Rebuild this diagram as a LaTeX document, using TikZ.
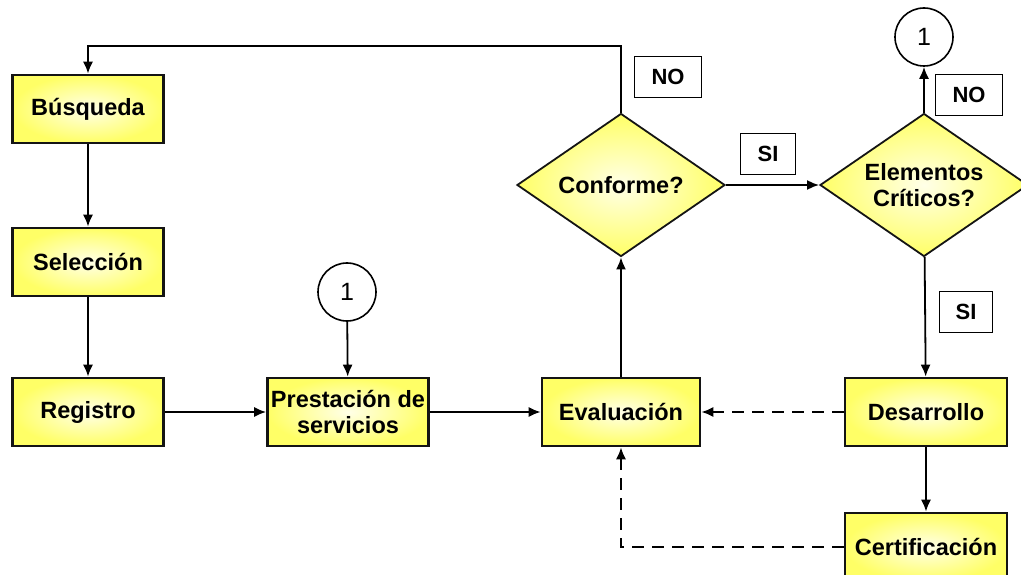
\documentclass[tikz,border=0pt]{standalone}
\usepackage{fontspec}
\setmainfont{Liberation Sans}
\usetikzlibrary{shapes.geometric}
\usetikzlibrary{arrows.meta}
\definecolor{boxout}{RGB}{255, 255, 102}
\definecolor{boxin}{RGB}{255, 255, 232}
\definecolor{edge}{RGB}{20, 20, 20}
\tikzset{
  stepbox/.style={rectangle, minimum width=151pt, minimum height=68pt, inner sep=0pt,
    line width=2.6pt, draw=edge, shading=radial, inner color=boxin, outer color=boxout,
    align=center, font=\bfseries\fontsize{23.5}{26}\selectfont},
  decision/.style={diamond, shape aspect=1.45, minimum width=208pt, minimum height=143pt,
    inner sep=0pt, line width=1.8pt, draw=edge, shading=radial, inner color=boxin,
    outer color=boxout, align=center, font=\bfseries\fontsize{23.5}{26}\selectfont},
  connector/.style={circle, minimum size=58pt, inner sep=0pt, line width=1.6pt,
    draw=black, fill=white, font=\fontsize{25}{27}\selectfont},
  answer/.style={rectangle, minimum height=41pt, inner sep=0pt, line width=1pt,
    draw=black, fill=white, font=\bfseries\fontsize{22}{24}\selectfont},
  flow/.style={line width=1.8pt, color=black, -{Latex[length=12pt, width=10pt]}},
  back/.style={flow, dash pattern=on 12pt off 8pt}
}
\begin{document}
\begin{tikzpicture}
\useasboundingbox (0pt, 0pt) rectangle (1021pt, -575pt);
\node (busqueda) [stepbox] at (88pt, -109pt) {Búsqueda};
\node (seleccion) [stepbox] at (88pt, -262pt) {Selección};
\node (registro) [stepbox] at (88pt, -412pt) {Registro};
\node (prestacion) [stepbox, minimum width=161pt] at (348pt, -412pt) {Prestación de\\servicios};
\node (evaluacion) [stepbox, minimum width=158pt] at (621pt, -412pt) {Evaluación};
\node (desarrollo) [stepbox, minimum width=162pt] at (926pt, -412pt) {Desarrollo};
\node (certificacion) [stepbox, minimum width=162pt] at (926pt, -547pt) {Certificación};
\node (conforme) [decision] at (621pt, -185pt) {Conforme?};
\node (criticos) [decision] at (924pt, -185pt) {Elementos\\Críticos?};
\node (unoA) [connector] at (924pt, -37pt) {1};
\node (unoB) [connector] at (347pt, -292pt) {1};
\node (noA) [answer, minimum width=67pt] at (668pt, -77pt) {NO};
\node (siA) [answer, minimum width=55pt] at (768pt, -154pt) {SI};
\node (noB) [answer, minimum width=67pt] at (969pt, -95pt) {NO};
\node (siB) [answer, minimum width=53pt] at (966pt, -312pt) {SI};
\coordinate (loop) at (88pt, -46pt);
\draw [flow] (busqueda) to (seleccion);
\draw [flow] (seleccion) to (registro);
\draw [flow] (registro) to (prestacion);
\draw [flow] (unoB) to (prestacion);
\draw [flow] (prestacion) to (evaluacion);
\draw [flow] (evaluacion) to (conforme);
\draw [flow] (conforme) to (criticos);
\draw [flow] (criticos) to (unoA);
\draw [flow] (criticos) to (desarrollo);
\draw [flow] (desarrollo) to (certificacion);
\draw [flow] (conforme.north) |- (loop) -- (busqueda.north);
\draw [back] (desarrollo) to (evaluacion);
\draw [back] (certificacion.west) -| (evaluacion.south);
\end{tikzpicture}
\end{document}
